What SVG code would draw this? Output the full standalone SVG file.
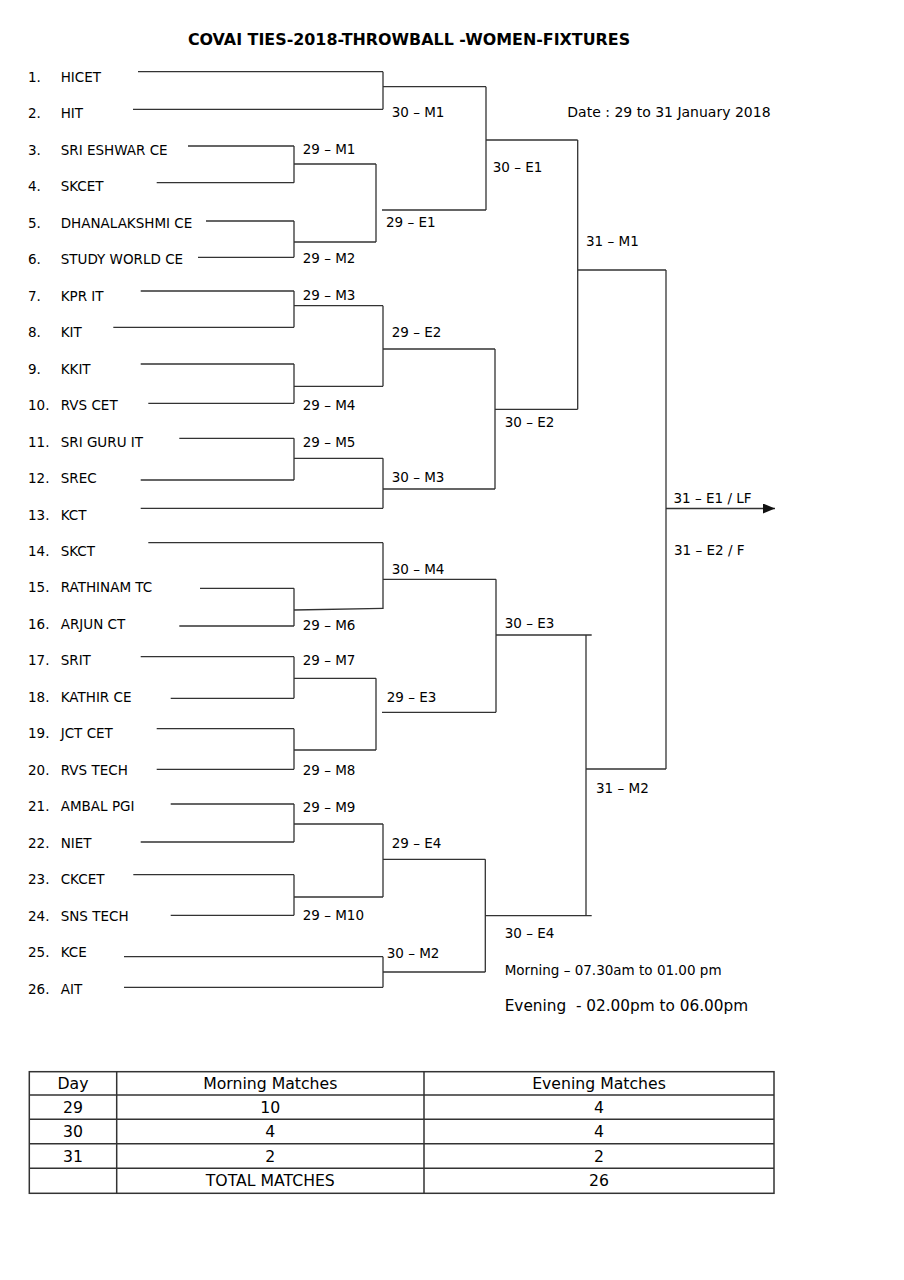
<svg xmlns="http://www.w3.org/2000/svg" width="904" height="1280" viewBox="0 0 904 1280">
<style>
text{font-family:"DejaVu Sans","Liberation Sans",sans-serif;fill:#000}
.t{font-size:13.5px}
.lb{font-size:13.5px}
.title{font-size:15.9px;font-weight:bold}
.tb{font-size:15.7px}
.ln{fill:none;stroke:#333;stroke-width:1.3}
.grid{fill:none;stroke:#333;stroke-width:1.5}
</style>
<defs>
<marker id="arr" markerWidth="12" markerHeight="10" refX="12" refY="5" orient="auto" markerUnits="userSpaceOnUse">
<path d="M0,0 L12,5 L0,10 Z" fill="#111"/>
</marker>
</defs>
<rect width="904" height="1280" fill="#fff"/>
<text class="title" x="409" y="45" text-anchor="middle">COVAI TIES-2018-THROWBALL -WOMEN-FIXTURES</text>
<text x="567.3" y="117.3" font-size="14">Date : 29 to 31 January 2018</text>

<g id="teams" class="t">
<g id="team1"><text x="28" y="81.7">1.</text><text x="60.7" y="81.7">HICET</text></g>
<g id="team2"><text x="28" y="118.2">2.</text><text x="60.7" y="118.2">HIT</text></g>
<g id="team3"><text x="28" y="154.7">3.</text><text x="60.7" y="154.7">SRI ESHWAR CE</text></g>
<g id="team4"><text x="28" y="191.1">4.</text><text x="60.7" y="191.1">SKCET</text></g>
<g id="team5"><text x="28" y="227.6">5.</text><text x="60.7" y="227.6">DHANALAKSHMI CE</text></g>
<g id="team6"><text x="28" y="264.1">6.</text><text x="60.7" y="264.1">STUDY WORLD CE</text></g>
<g id="team7"><text x="28" y="300.6">7.</text><text x="60.7" y="300.6">KPR IT</text></g>
<g id="team8"><text x="28" y="337.1">8.</text><text x="60.7" y="337.1">KIT</text></g>
<g id="team9"><text x="28" y="373.5">9.</text><text x="60.7" y="373.5">KKIT</text></g>
<g id="team10"><text x="28" y="410">10.</text><text x="60.7" y="410">RVS CET</text></g>
<g id="team11"><text x="28" y="446.5">11.</text><text x="60.7" y="446.5">SRI GURU IT</text></g>
<g id="team12"><text x="28" y="483">12.</text><text x="60.7" y="483">SREC</text></g>
<g id="team13"><text x="28" y="519.5">13.</text><text x="60.7" y="519.5">KCT</text></g>
<g id="team14"><text x="28" y="555.9">14.</text><text x="60.7" y="555.9">SKCT</text></g>
<g id="team15"><text x="28" y="592.4">15.</text><text x="60.7" y="592.4">RATHINAM TC</text></g>
<g id="team16"><text x="28" y="628.9">16.</text><text x="60.7" y="628.9">ARJUN CT</text></g>
<g id="team17"><text x="28" y="665.4">17.</text><text x="60.7" y="665.4">SRIT</text></g>
<g id="team18"><text x="28" y="701.8">18.</text><text x="60.7" y="701.8">KATHIR CE</text></g>
<g id="team19"><text x="28" y="738.3">19.</text><text x="60.7" y="738.3">JCT CET</text></g>
<g id="team20"><text x="28" y="774.8">20.</text><text x="60.7" y="774.8">RVS TECH</text></g>
<g id="team21"><text x="28" y="811.3">21.</text><text x="60.7" y="811.3">AMBAL PGI</text></g>
<g id="team22"><text x="28" y="847.8">22.</text><text x="60.7" y="847.8">NIET</text></g>
<g id="team23"><text x="28" y="884.2">23.</text><text x="60.7" y="884.2">CKCET</text></g>
<g id="team24"><text x="28" y="920.7">24.</text><text x="60.7" y="920.7">SNS TECH</text></g>
<g id="team25"><text x="28" y="957.2">25.</text><text x="60.7" y="957.2">KCE</text></g>
<g id="team26"><text x="28" y="993.7">26.</text><text x="60.7" y="993.7">AIT</text></g>
</g>

<g id="connectors" class="ln">
<path d="M138,71.7H383 M133,109.3H383 M188,146H294 M156.7,182.7H294 M206,221H294 M198,257.3H294 M140.7,291H294 M113.3,327.3H294 M140.7,364H294 M148.3,403.3H294 M179.3,438.3H294 M140.7,480H294 M140.7,508.3H383 M148.3,542.7H383 M200,588.3H294 M179.3,626H294 M140.7,656.7H294 M170.7,698.3H294 M156.7,728.7H294 M156.7,769.3H294 M170.7,804H294 M140.7,842H294 M133.3,874.7H294 M170.7,915.3H294 M124,956.7H383 M124,987.3H383"/>
<path d="M383,71.7V109.3 M383,86.7H486"/>
<path d="M294,146V182.7 M294,164H376"/>
<path d="M294,221V257.3 M294,242H376"/>
<path d="M376,164V242 M382,210H486"/>
<path d="M486,86.7V210 M486,140H577.7"/>
<path d="M294,291V327.3 M294,305.7H383"/>
<path d="M294,364V403.3 M294,386.3H383"/>
<path d="M383,305.7V386.3 M383,349H495"/>
<path d="M294,438.3V480 M294,458.3H383"/>
<path d="M383,458.3V508.3 M383,489H495"/>
<path d="M495,349V489 M495,409.3H577.7"/>
<path d="M577.7,140V409.3 M577.7,270H666"/>
<path d="M666,270V769"/>
<path d="M666,508.5H775" marker-end="url(#arr)"/>
<path d="M294,588.3V626 M294,610L383,608.3"/>
<path d="M383,542.7V609 M383,579.3H496"/>
<path d="M294,656.7V698.3 M294,678.3H376"/>
<path d="M294,728.7V769.3 M294,750H376"/>
<path d="M376,678.3V750 M382,712.3H496"/>
<path d="M496,579.3V712.3 M496,635H591.7"/>
<path d="M294,804V842 M294,824H383"/>
<path d="M294,874.7V915.3 M294,897H383"/>
<path d="M383,824V897 M383,859.3H485.3"/>
<path d="M383,956.7V987.3 M383,972H485.3"/>
<path d="M485.3,859.3V972 M485.3,915.7H591.7"/>
<path d="M586,635V915.7 M586,769H666"/>
</g>

<g id="matches" class="lb">
<g id="m30-M1"><text x="391.7" y="117">30 – M1</text></g>
<g id="m29-M1"><text x="302.7" y="154">29 – M1</text></g>
<g id="m29-M2"><text x="302.7" y="263">29 – M2</text></g>
<g id="m29-E1"><text x="386" y="227">29 – E1</text></g>
<g id="m30-E1"><text x="492.7" y="172.3">30 – E1</text></g>
<g id="m31-M1"><text x="586" y="245.7">31 – M1</text></g>
<g id="m29-M3"><text x="302.7" y="300">29 – M3</text></g>
<g id="m29-E2"><text x="391.7" y="336.7">29 – E2</text></g>
<g id="m29-M4"><text x="302.7" y="410">29 – M4</text></g>
<g id="m30-E2"><text x="504.7" y="427.3">30 – E2</text></g>
<g id="m29-M5"><text x="302.7" y="446.7">29 – M5</text></g>
<g id="m30-M3"><text x="391.7" y="482.3">30 – M3</text></g>
<g id="m31-E1"><text x="673.5" y="502.5">31 – E1 / LF</text></g>
<g id="m31-E2"><text x="674" y="555">31 – E2 / F</text></g>
<g id="m30-M4"><text x="391.7" y="574.3">30 – M4</text></g>
<g id="m29-M6"><text x="302.7" y="630">29 – M6</text></g>
<g id="m30-E3"><text x="504.7" y="628.3">30 – E3</text></g>
<g id="m29-M7"><text x="302.7" y="665">29 – M7</text></g>
<g id="m29-E3"><text x="386.7" y="701.7">29 – E3</text></g>
<g id="m29-M8"><text x="302.7" y="775">29 – M8</text></g>
<g id="m31-M2"><text x="596" y="792.7">31 – M2</text></g>
<g id="m29-M9"><text x="302.7" y="811.7">29 – M9</text></g>
<g id="m29-E4"><text x="391.7" y="847.7">29 – E4</text></g>
<g id="m29-M10"><text x="302.7" y="920.3">29 – M10</text></g>
<g id="m30-E4"><text x="504.7" y="938.3">30 – E4</text></g>
<g id="m30-M2"><text x="386.7" y="957.7">30 – M2</text></g>
</g>

<text class="lb" x="504.7" y="975">Morning – 07.30am to 01.00 pm</text>
<text x="504.7" y="1010.5" font-size="15.3" xml:space="preserve">Evening  - 02.00pm to 06.00pm</text>

<g id="summary-table">
<rect class="grid" x="29.3" y="1071.7" width="744.7" height="121.6"/>
<path class="grid" d="M29.3,1095H774 M29.3,1119.3H774 M29.3,1143.7H774 M29.3,1168.3H774 M116.7,1071.7V1193.3 M424,1071.7V1193.3"/>
<g class="tb" text-anchor="middle">
<text x="73" y="1089">Day</text>
<text x="270.3" y="1089">Morning Matches</text>
<text x="599" y="1089">Evening Matches</text>
<text x="73" y="1113">29</text>
<text x="270.3" y="1113">10</text>
<text x="599" y="1113">4</text>
<text x="73" y="1137.3">30</text>
<text x="270.3" y="1137.3">4</text>
<text x="599" y="1137.3">4</text>
<text x="73" y="1161.7">31</text>
<text x="270.3" y="1161.7">2</text>
<text x="599" y="1161.7">2</text>
<text x="270.3" y="1186">TOTAL MATCHES</text>
<text x="599" y="1186">26</text>
</g>
</g>
</svg>
